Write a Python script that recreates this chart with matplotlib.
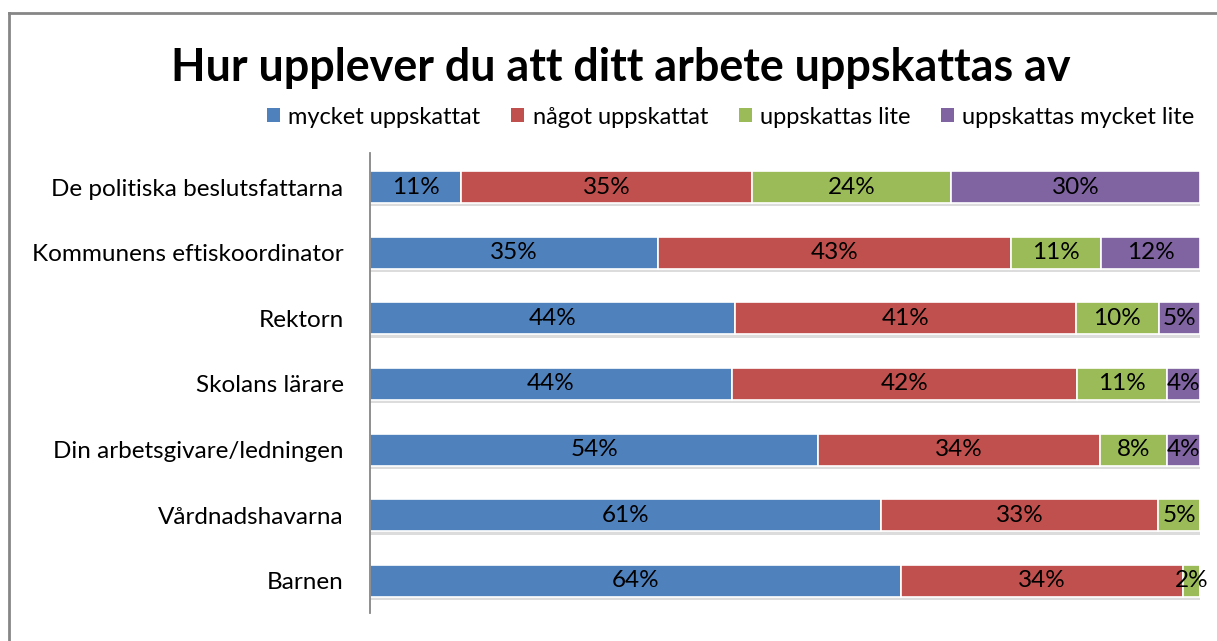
import matplotlib.pyplot as plt
from matplotlib.lines import Line2D
from matplotlib.patches import Patch
import numpy as np

plt.rcParams['font.family'] = ['Lato', 'DejaVu Sans']

categories = [
    'De politiska beslutsfattarna',
    'Kommunens eftiskoordinator',
    'Rektorn',
    'Skolans lärare',
    'Din arbetsgivare/ledningen',
    'Vårdnadshavarna',
    'Barnen',
]
series_names = ['mycket uppskattat', 'något uppskattat', 'uppskattas lite', 'uppskattas mycket lite']
mycket = [11, 35, 44, 44, 54, 61, 64]
nagot = [35, 43, 41, 42, 34, 33, 34]
lite = [24, 11, 10, 11, 8, 5, 2]
mycket_lite = [30, 12, 5, 4, 4, 0, 0]
colors = ['#4F81BD', '#C0504D', '#9BBB59', '#8064A2']

values = np.array([mycket, nagot, lite, mycket_lite], dtype=float)
shares = values / values.sum(axis=0) * 100  # 100 % stacked

W, H = 1217, 641
fig = plt.figure(figsize=(W / 100, H / 100), dpi=100)
ax = fig.add_axes([370 / W, 1 - 613 / H, 830 / W, (613 - 153) / H])

y = np.arange(len(categories))
left = np.zeros(len(categories))
bar_h = 0.49
for vals, pct, color in zip(values, shares, colors):
    # soft drop shadow under each segment
    ax.barh(y + 0.05, pct, left=left, height=bar_h, color='#dcdcdc',
            edgecolor='none', zorder=1)
    ax.barh(y, pct, left=left, height=bar_h, color=color,
            edgecolor='white', linewidth=1.2, zorder=2)
    for yi, v, p, l in zip(y, vals, pct, left):
        if v > 0:
            ax.text(l + p / 2, yi, f'{int(v)}%', ha='center', va='center',
                    fontsize=17.5, color='black', zorder=3)
    left += pct

ax.set_xlim(0, 100)
ax.set_ylim(len(categories) - 1 + 0.49, -0.52)
ax.set_yticks(y)
ax.set_yticklabels(categories, fontsize=17.5)
ax.tick_params(axis='y', length=0, pad=19)
ax.set_xticks([])
for side in ['top', 'right', 'bottom']:
    ax.spines[side].set_visible(False)
ax.spines['left'].set_color('#868686')
ax.spines['left'].set_linewidth(1.3)

fig.text(621 / W, 1 - 68 / H, 'Hur upplever du att ditt arbete uppskattas av',
         ha='center', va='center', fontsize=32.3, fontweight='bold')

handles = [Patch(facecolor=c, edgecolor='none') for c in colors]
fig.legend(handles, series_names, loc='center right',
           bbox_to_anchor=(1204 / W, 1 - 117 / H), ncol=4, frameon=False,
           fontsize=17, handlelength=0.55, handleheight=0.55,
           handletextpad=0.35, columnspacing=1.3, borderaxespad=0)

# chart frame
fig.add_artist(Line2D([9 / W, 1], [1 - 13 / H, 1 - 13 / H], color='#868686', lw=2))
fig.add_artist(Line2D([9 / W, 9 / W], [0, 1 - 13 / H], color='#868686', lw=2))

fig.savefig('out.png', dpi=100)
